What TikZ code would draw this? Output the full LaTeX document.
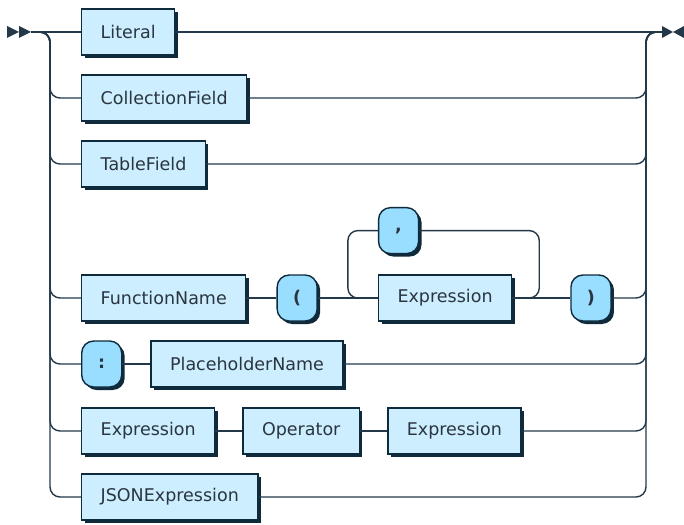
\documentclass[tikz,border=0pt]{standalone}
\usepackage{fontspec}
\setmainfont{DejaVu Sans}
\usetikzlibrary{positioning,shadows}

\definecolor{railc}{HTML}{23394A}
\definecolor{boxc}{HTML}{0E2A3B}
\definecolor{ntfill}{HTML}{CCEEFF}
\definecolor{tfill}{HTML}{99DDFF}
\definecolor{txtc}{HTML}{2A3540}

\begin{document}
\begin{tikzpicture}[
  x=1pt,y=-1pt,
  node distance=28pt,
  rail/.style={draw=railc,line width=1.4pt,rounded corners=10pt},
  nt/.style={draw=boxc,line width=1.4pt,fill=ntfill,minimum height=46pt,inner xsep=19pt,
    text=txtc,font=\fontsize{17.5}{20}\selectfont,
    drop shadow={shadow xshift=3pt,shadow yshift=-3pt,fill=boxc,opacity=1}},
  term/.style={nt,fill=tfill,rounded corners=12pt,minimum width=40pt,inner xsep=4pt,
    font=\fontsize{17.5}{20}\selectfont\bfseries}
]
  \useasboundingbox (0,0) rectangle (684,524);

  % first column
  \node[nt,anchor=west] (lit) at (81,32) {Literal};
  \node[nt,anchor=west] (coll) at (81,98) {CollectionField};
  \node[nt,anchor=west] (tab) at (81,164) {TableField};
  \node[nt,anchor=west] (fname) at (81,298) {FunctionName};
  \node[term,anchor=west] (colon) at (81,364) {:};
  \node[nt,anchor=west] (lhs) at (81,431) {Expression};
  \node[nt,anchor=west] (json) at (81,497) {JSONExpression};

  % function call
  \node[term,right=30pt of fname] (lpar) {(};
  \node[nt,right=60pt of lpar] (arg) {Expression};
  \node[term,above=20pt of arg.north west,anchor=south west] (comma) {,};
  \node[term,right=58pt of arg] (rpar) {)};

  % placeholder and binary expression
  \node[nt,right=of colon] (ph) {PlaceholderName};
  \node[nt,right=27pt of lhs] (op) {Operator};
  \node[nt,right=27pt of op] (rhs) {Expression};

  \coordinate (start) at (31,32);
  \coordinate (split) at (40,32);
  \coordinate (lbus) at (50,32);
  \coordinate (rbus) at (646,32);
  \coordinate (join) at (656,32);
  \coordinate (end) at (662,32);
  \coordinate (loopl) at ([xshift=-30pt]arg.west);
  \coordinate (loopr) at ([xshift=27pt]arg.east);

  % start and end marks
  \fill[railc] (7,26) -- (19,32) -- (7,38) -- cycle;
  \fill[railc] (19,26) -- (31,32) -- (19,38) -- cycle;
  \fill[railc] (662,26) -- (673,32) -- (662,38) -- cycle;
  \fill[railc] (684,26) -- (673,32) -- (684,38) -- cycle;

  % choices
  \draw[rail] (start) -- (lit.west);
  \draw[rail] (lit.east) -- (end);
  \foreach \n in {coll,tab,fname,colon,lhs,json}
    \draw[rail] (split) -| (lbus |- \n.west) -- (\n.west);
  \foreach \n in {coll,tab,rpar,ph,rhs,json}
    \draw[rail] (\n.east) -- (rbus |- \n.east) |- (join);

  % sequences
  \draw[rail] (fname.east) -- (lpar.west);
  \draw[rail] (lpar.east) -- (arg.west);
  \draw[rail] (arg.east) -- (rpar.west);
  \draw[rail] (arg.east) -- (loopr) |- (comma.east);
  \draw[rail] (comma.west) -| (loopl) -- (arg.west);
  \draw[rail] (colon.east) -- (ph.west);
  \draw[rail] (lhs.east) -- (op.west);
  \draw[rail] (op.east) -- (rhs.west);
\end{tikzpicture}
\end{document}
